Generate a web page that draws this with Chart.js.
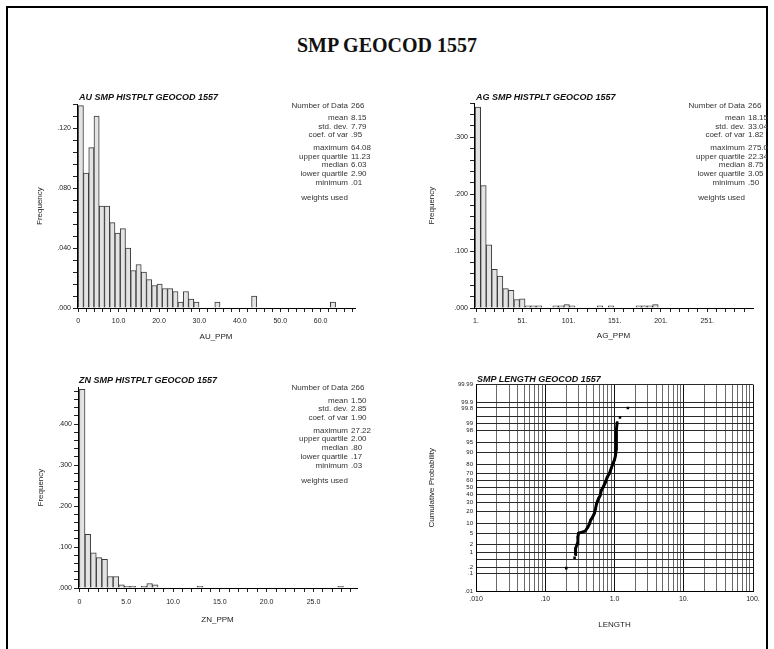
<!DOCTYPE html>
<html><head><meta charset="utf-8">
<script src="https://cdn.jsdelivr.net/npm/chart.js@4.4.1/dist/chart.umd.min.js"></script>
<style>
body{margin:0;background:#fff;width:774px;height:649px;overflow:hidden;position:relative;font-family:"Liberation Sans",Arial,sans-serif;}
#frame{position:absolute;left:6px;top:6px;width:758px;height:700px;border:2px solid #000;border-bottom:none;}
#title{position:absolute;left:0;width:774px;top:34px;text-align:center;font:bold 20px "Liberation Serif","Times New Roman",serif;color:#111;}
canvas{position:absolute;}
.pt{position:absolute;font:italic bold 9px "Liberation Sans",Arial,sans-serif;color:#111;white-space:nowrap;line-height:9px;}
.st{position:absolute;font:8px "Liberation Sans",Arial,sans-serif;color:#333;white-space:nowrap;line-height:8px;}
</style></head><body>
<div id="frame"></div>
<div id="title">SMP GEOCOD 1557</div>
<canvas id="cAU"></canvas><canvas id="cAG"></canvas><canvas id="cZN"></canvas><canvas id="cLEN"></canvas>
<script>
// ---------------- DATA ----------------
const AU_BIN = 1.3;
const AU_FREQ = [0.135,0.090,0.107,0.128,0.068,0.068,0.057,0.050,0.053,0.040,
                 0.025,0.029,0.024,0.019,0.015,0.016,0.013,0.013,0.011,0.004,
                 0.011,0.006,0.004,0,0,0,0.004,0,0,0,
                 0,0,0,0.008,0,0,0,0,0,0,
                 0,0,0,0,0,0,0,0,0.004,0];
const AG_BIN = 6;
const AG_FREQ = [0.353,0.215,0.111,0.068,0.056,0.034,0.031,0.015,0.016,0.004,
                 0.004,0.004,0,0,0.004,0.004,0.006,0.004,0,0,
                 0,0,0.004,0,0.004,0,0,0,0,0.004,
                 0.004,0.004,0.006,0,0,0,0,0,0,0,
                 0,0,0,0,0,0,0,0,0,0];
const ZN_BIN = 0.6;
const ZN_FREQ = [0.485,0.131,0.086,0.074,0.070,0.028,0.028,0.008,0.004,0.004,
                 0,0.004,0.011,0.008,0,0,0,0,0,0,
                 0,0.004,0,0,0,0,0,0,0,0,
                 0,0,0,0,0,0,0,0,0,0,
                 0,0,0,0,0,0,0.004,0,0,0];

const AU_XLABEL_VALUES = [0,10,20,30,40,50,60];
const AU_XLABELS = ['0','10.0','20.0','30.0','40.0','50.0','60.0'];
const AU_YLABEL_VALUES = [0,0.04,0.08,0.12];
const AU_YLABELS = ['.000','.040','.080','.120'];

const AG_XLABEL_VALUES = [1,51,101,151,201,251];
const AG_XLABELS = ['1.','51.','101.','151.','201.','251.'];
const AG_YLABEL_VALUES = [0,0.1,0.2,0.3];
const AG_YLABELS = ['.000','.100','.200','.300'];

const ZN_XLABEL_VALUES = [0,5,10,15,20,25];
const ZN_XLABELS = ['0','5.0','10.0','15.0','20.0','25.0'];
const ZN_YLABEL_VALUES = [0,0.1,0.2,0.3,0.4];
const ZN_YLABELS = ['.000','.100','.200','.300','.400'];

const STAT_NAMES = ['Number of Data','mean','std. dev.','coef. of var','maximum','upper quartile','median','lower quartile','minimum','weights used'];
const AU_STATS = ['266','8.15','7.79','.95','64.08','11.23','6.03','2.90','.01',''];
const AG_STATS = ['266','18.15','33.04','1.82','275.0','22.34','8.75','3.05','.50',''];
const ZN_STATS = ['266','1.50','2.85','1.90','27.22','2.00','.80','.17','.03',''];

// Probability plot (LENGTH): curve points and isolated points
const LEN_CURVE_X = [0.271,0.274,0.290,0.296,0.303,0.339,0.378,0.413,0.436,0.451,
                     0.488,0.514,0.532,0.550,0.588,0.622,0.643,0.694,0.741,0.785,
                     0.847,0.896,0.948,1.000,1.034,1.058,1.058,1.069,1.069,1.094];
const LEN_CURVE_P = [0.82,1.42,2.21,3.79,5.13,5.53,5.94,7.84,9.79,12.0,
                     15.1,18.1,22.5,28.3,34.7,39.2,46.2,51.9,58.0,64.9,
                     70.1,76.0,80.7,84.4,87.8,92.0,95.0,97.0,98.3,99.09];
const LEN_PTS_X = [0.201,0.265,1.20,1.56];
const LEN_PTS_P = [0.19,0.59,99.43,99.80];

const LEN_XGRID = [0.01,0.02,0.03,0.04,0.05,0.06,0.07,0.08,0.09,
                   0.1,0.2,0.3,0.4,0.5,0.6,0.7,0.8,0.9,
                   1,2,3,4,5,6,7,8,9,
                   10,20,30,40,50,60,70,80,90,100];
const LEN_XLABEL_VALUES = [0.01,0.1,1,10,100];
const LEN_XLABELS = ['.010','.10','1.0','10.','100.'];
const PROB_GRID = [0.01,0.1,0.2,0.5,1,2,5,10,20,30,40,50,60,70,80,90,95,98,99,99.5,99.8,99.9,99.99];
const PROB_LABEL_VALUES = [0.01,0.1,0.2,1,2,5,10,20,30,40,50,60,70,80,90,95,98,99,99.8,99.9,99.99];
const PROB_LABELS = ['.01','.1','.2','1','2','5','10','20','30','40','50','60','70','80','90','95','98','99','99.8','99.9','99.99'];

// ---------------- HELPERS ----------------
const FONT = '"Liberation Sans", Arial, sans-serif';
Chart.defaults.font.family = FONT;
Chart.defaults.color = '#222';
const PAD = {top:6,right:14,bottom:0,left:0};

function lookup(vals, labels, v){
  for (let i=0;i<vals.length;i++){ if (Math.abs(vals[i]-v) < 1e-7*Math.max(1,Math.abs(v))) return labels[i]; }
  return '';
}
function placeCanvas(id, area, wy, hx){
  const c = document.getElementById(id);
  const left = area.l - wy - PAD.left, top = area.t - PAD.top;
  const w = (area.r - area.l) + wy + PAD.left + PAD.right;
  const h = (area.b - area.t) + PAD.top + hx;
  c.style.left = left+'px'; c.style.top = top+'px';
  c.width = w; c.height = h; c.style.width = w+'px'; c.style.height = h+'px';
  return c;
}
function range(a,b,step){ const r=[]; const n=Math.round((b-a)/step); for(let i=0;i<=n;i++) r.push(+(a+i*step).toFixed(6)); return r; }

function histogram(cfg){
  const c = placeCanvas(cfg.id, cfg.area, cfg.wy, cfg.hx);
  const pts = cfg.freq.map((f,i)=>({x:(i+0.5)*cfg.bin, y:f}));
  new Chart(c, {
    type:'bar',
    data:{datasets:[{data:pts, backgroundColor:'#e3e3e3', borderColor:'#3a3a3a', borderWidth:1,
      barPercentage:1, categoryPercentage:1, borderSkipped:'start'}]},
    options:{
      responsive:false, animation:false, devicePixelRatio:1,
      layout:{padding:PAD},
      plugins:{legend:{display:false}, tooltip:{enabled:false}},
      scales:{
        x:{type:'linear', offset:false, min:cfg.xmin, max:cfg.xmax,
          afterBuildTicks:s=>{ s.ticks = cfg.xticks.map(v=>({value:v})); },
          afterFit:s=>{ s.height = cfg.hx; },
          ticks:{autoSkip:false, maxRotation:0, minRotation:0, padding:cfg.xpad, font:{size:7}, color:'#222',
            callback:(v)=>lookup(cfg.xlv, cfg.xl, v)},
          grid:{display:true, drawOnChartArea:false, drawTicks:true, tickLength:4, color:'#222', offset:false},
          border:{display:true, color:'#000', width:1},
          title:{display:true, text:cfg.xtitle, font:{size:8}, color:'#222', padding:0}},
        y:{type:'linear', min:0, max:cfg.ymax,
          afterBuildTicks:s=>{ s.ticks = cfg.yticks.map(v=>({value:v})); },
          afterFit:s=>{ s.width = cfg.wy; },
          ticks:{autoSkip:false, padding:2, font:{size:7}, color:'#222',
            callback:(v)=>lookup(cfg.ylv, cfg.yl, v)},
          grid:{display:true, drawOnChartArea:false, drawTicks:true, tickLength:4, color:'#222'},
          border:{display:true, color:'#000', width:1},
          title:{display:true, text:'Frequency', font:{size:8}, color:'#222', padding:0}}
      }
    }
  });
}

function stats(values, labelRight, valueLeft, y0){
  const offs = [0,12.6,21,29.6,42.6,51,59.3,68.3,77.3,92.3];
  STAT_NAMES.forEach((n,i)=>{
    const a = document.createElement('div'); a.className='st';
    a.style.right = (774-labelRight)+'px'; a.style.top = (y0+offs[i]-4)+'px'; a.style.textAlign='right';
    a.textContent = n; document.body.appendChild(a);
    if (values[i]){
      const b = document.createElement('div'); b.className='st';
      b.style.left = valueLeft+'px'; b.style.top = (y0+offs[i]-4)+'px';
      b.textContent = values[i]; document.body.appendChild(b);
    }
  });
}
function ptitle(text, x, yc){
  const d = document.createElement('div'); d.className='pt';
  d.style.left = x+'px'; d.style.top = (yc-4.5)+'px'; d.textContent = text; document.body.appendChild(d);
}

// ---------------- PANELS ----------------
histogram({id:'cAU', area:{l:77,t:104,r:355,b:308}, wy:42, hx:34, xpad:5,
  freq:AU_FREQ, bin:AU_BIN, xmin:-0.3, xmax:68.5, ymax:0.136,
  xticks:range(0,68,2), xlv:AU_XLABEL_VALUES, xl:AU_XLABELS,
  yticks:range(0,0.136,0.008), ylv:AU_YLABEL_VALUES, yl:AU_YLABELS, xtitle:'AU_PPM'});
histogram({id:'cAG', area:{l:474,t:103,r:753,b:308}, wy:47, hx:33, xpad:5,
  freq:AG_FREQ, bin:AG_BIN, xmin:-1.2, xmax:300.5, ymax:0.36,
  xticks:range(1,291,10), xlv:AG_XLABEL_VALUES, xl:AG_XLABELS,
  yticks:range(0,0.36,0.02), ylv:AG_YLABEL_VALUES, yl:AG_YLABELS, xtitle:'AG_PPM'});
histogram({id:'cZN', area:{l:78,t:387,r:357,b:588}, wy:42, hx:37, xpad:6,
  freq:ZN_FREQ, bin:ZN_BIN, xmin:-0.15, xmax:29.65, ymax:0.49,
  xticks:range(0,29,1), xlv:ZN_XLABEL_VALUES, xl:ZN_XLABELS,
  yticks:range(0,0.48,0.02), ylv:ZN_YLABEL_VALUES, yl:ZN_YLABELS, xtitle:'ZN_PPM'});

ptitle('AU SMP HISTPLT GEOCOD 1557', 79, 97.5);
ptitle('AG SMP HISTPLT GEOCOD 1557', 476, 97.5);
ptitle('ZN SMP HISTPLT GEOCOD 1557', 79, 380);
ptitle('SMP LENGTH GEOCOD 1557', 477, 379);

stats(AU_STATS, 348, 351, 105.7);
stats(AG_STATS, 745, 748, 105.7);
stats(ZN_STATS, 348, 351, 388.3);

// ---------------- PROBABILITY SCALE ----------------
function probit(p){
  const a=[-3.969683028665376e+01,2.209460984245205e+02,-2.759285104469687e+02,1.383577518672690e+02,-3.066479806614716e+01,2.506628277459239e+00];
  const b=[-5.447609879822406e+01,1.615858368580409e+02,-1.556989798598866e+02,6.680131188771972e+01,-1.328068155288572e+01];
  const c=[-7.784894002430293e-03,-3.223964580411365e-01,-2.400758277161838e+00,-2.549732539343734e+00,4.374664141464968e+00,2.938163982698783e+00];
  const d=[7.784695709041462e-03,3.224671290700398e-01,2.445134137142996e+00,3.754408661907416e+00];
  const pl=0.02425;
  if (p<pl){ const q=Math.sqrt(-2*Math.log(p)); return (((((c[0]*q+c[1])*q+c[2])*q+c[3])*q+c[4])*q+c[5])/((((d[0]*q+d[1])*q+d[2])*q+d[3])*q+1); }
  if (p>1-pl){ const q=Math.sqrt(-2*Math.log(1-p)); return -(((((c[0]*q+c[1])*q+c[2])*q+c[3])*q+c[4])*q+c[5])/((((d[0]*q+d[1])*q+d[2])*q+d[3])*q+1); }
  const q=p-0.5, r=q*q;
  return (((((a[0]*r+a[1])*r+a[2])*r+a[3])*r+a[4])*r+a[5])*q/(((((b[0]*r+b[1])*r+b[2])*r+b[3])*r+b[4])*r+1);
}
function ncdf(z){ const t=1/(1+0.2316419*Math.abs(z)); const d=0.3989423*Math.exp(-z*z/2);
  let p=d*t*(0.3193815+t*(-0.3565638+t*(1.781478+t*(-1.821256+t*1.330274)))); return z>0?1-p:p; }

class ProbitScale extends Chart.LinearScale {
  determineDataLimits(){ this.min = 0.01; this.max = 99.99; }
  buildTicks(){ return PROB_GRID.map(v=>({value:v})); }
  configure(){ super.configure(); this._zmin = probit(this.min/100); this._zmax = probit(this.max/100); }
  getPixelForValue(v){ const z = probit(Math.min(Math.max(v,1e-6),100-1e-6)/100); return this.getPixelForDecimal((z-this._zmin)/(this._zmax-this._zmin)); }
  getValueForPixel(px){ const d = this.getDecimalForPixel(px); return 100*ncdf(this._zmin + d*(this._zmax-this._zmin)); }
}
ProbitScale.id = 'probit';
Chart.register(ProbitScale);

(function(){
  const area = {l:476,t:384,r:753,b:591}, wy = 50, hx = 39;
  const c = placeCanvas('cLEN', area, wy, hx);
  const isDec = v => LEN_XLABEL_VALUES.some(d=>Math.abs(d-v)<1e-9);
  new Chart(c, {
    type:'scatter',
    data:{datasets:[
      {data:LEN_CURVE_X.map((x,i)=>({x:x, y:LEN_CURVE_P[i]})), showLine:true, borderColor:'#000', borderWidth:3,
        pointStyle:'rect', pointRadius:1.6, backgroundColor:'#000', pointBorderWidth:0},
      {data:LEN_PTS_X.map((x,i)=>({x:x, y:LEN_PTS_P[i]})), showLine:false,
        pointStyle:'rect', pointRadius:1.8, backgroundColor:'#000', borderColor:'#000', pointBorderWidth:0}
    ]},
    options:{
      responsive:false, animation:false, devicePixelRatio:1,
      layout:{padding:PAD},
      plugins:{legend:{display:false}, tooltip:{enabled:false}},
      scales:{
        x:{type:'logarithmic', min:0.01, max:100,
          afterBuildTicks:s=>{ s.ticks = LEN_XGRID.map(v=>({value:v})); },
          afterFit:s=>{ s.height = hx; },
          ticks:{autoSkip:false, maxRotation:0, minRotation:0, padding:4, font:{size:7}, color:'#222',
            callback:(v)=>lookup(LEN_XLABEL_VALUES, LEN_XLABELS, v)},
          grid:{display:true, drawTicks:false, color:(ctx)=> (ctx.tick && isDec(ctx.tick.value)) ? '#111' : '#6a6a6a', lineWidth:1},
          border:{display:true, color:'#000', width:1},
          title:{display:true, text:'LENGTH', font:{size:8}, color:'#222', padding:0}},
        y:{type:'probit',
          afterFit:s=>{ s.width = wy; },
          ticks:{autoSkip:false, padding:3, font:{size:6}, color:'#222',
            callback:(v)=>lookup(PROB_LABEL_VALUES, PROB_LABELS, v)},
          grid:{display:true, drawTicks:false, color:'#2a2a2a', lineWidth:1},
          border:{display:true, color:'#000', width:1},
          title:{display:true, text:'Cumulative Probability', font:{size:8}, color:'#222', padding:{top:1,bottom:0}}}
      }
    }
  });
})();
</script>
</body></html>
